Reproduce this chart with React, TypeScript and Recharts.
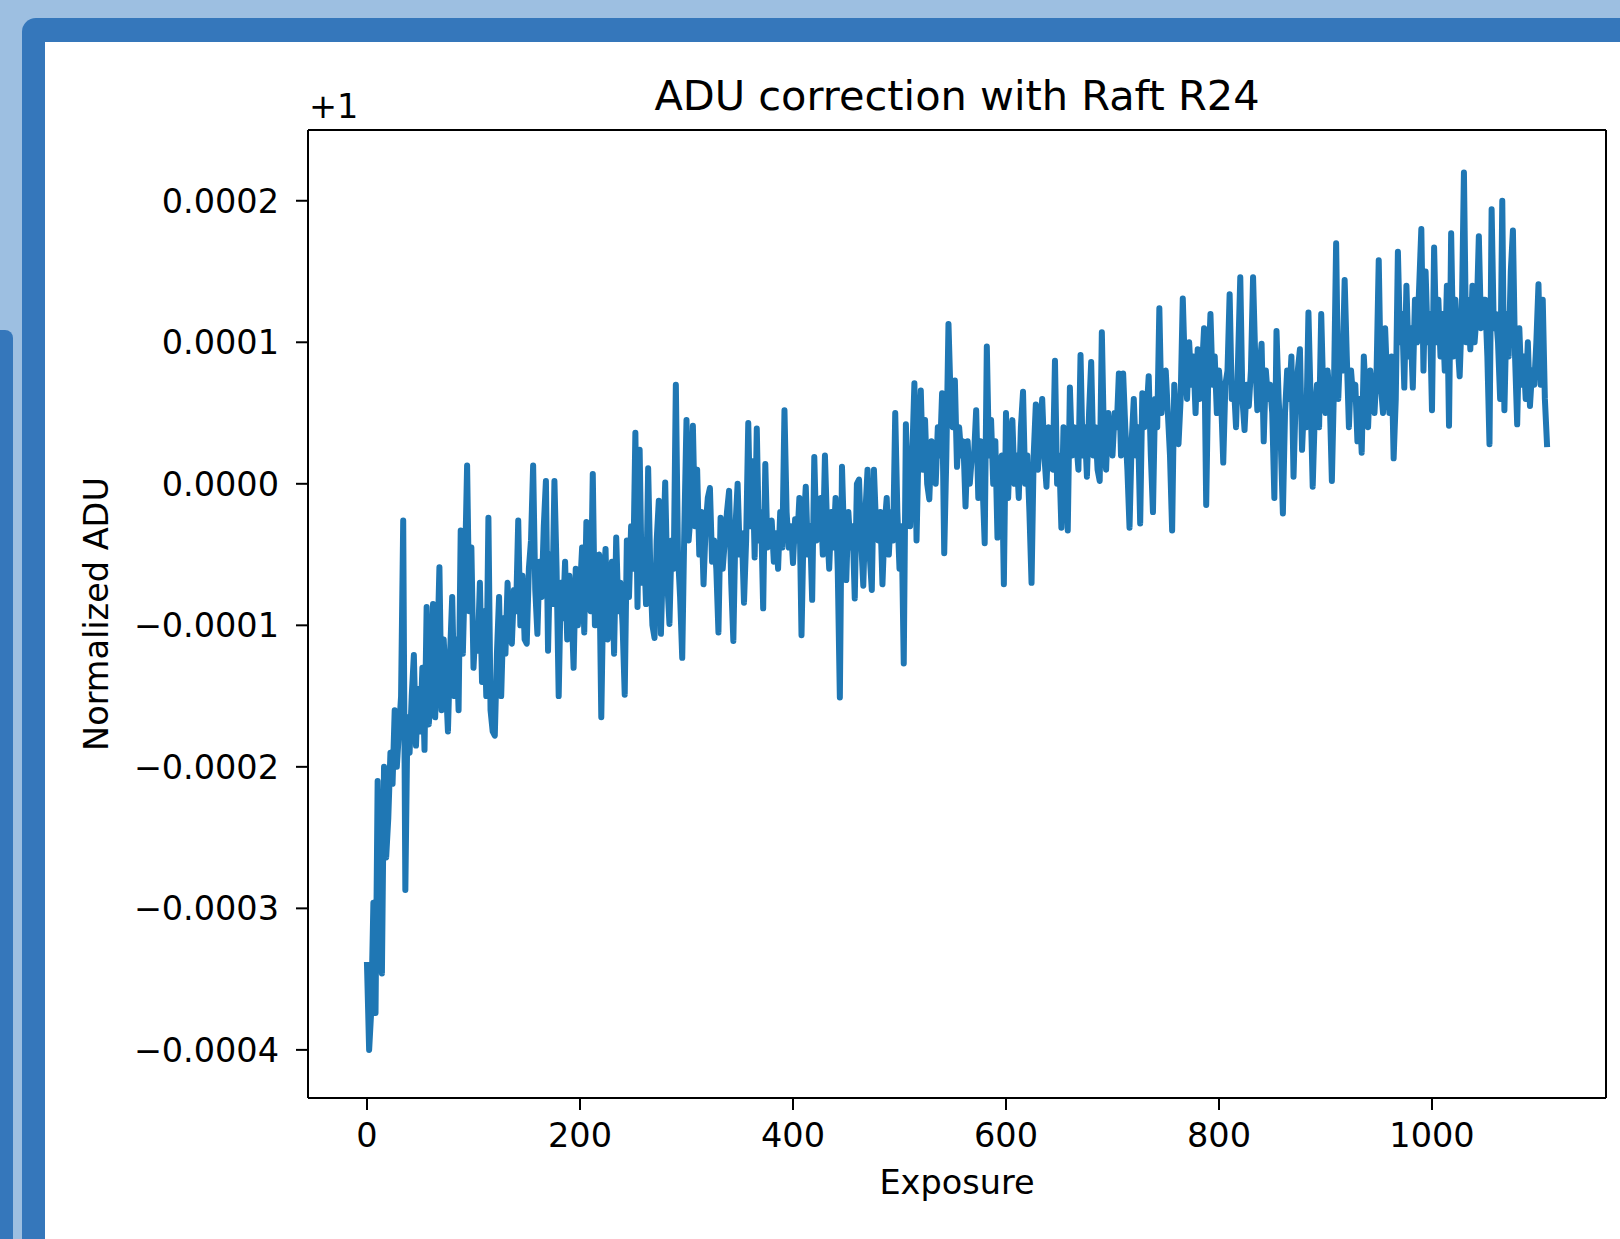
import React from 'react';
import { LineChart, Line, XAxis, YAxis, ReferenceLine } from 'recharts';

// Exposure sampling step (every 2nd exposure)
const EXPOSURE_STEP = 2;

// Normalized ADU minus 1, in millionths (1e-6).
// One row = 15 samples = 30 exposures.
const aduPpm: number[] = [
  -340, -400, -372, -296, -374, -210, -300, -346, -200, -264, -236, -190, -212, -160, -200,
  -175, -150, -26, -287, -165, -190, -150, -121, -185, -145, -175, -130, -188, -87, -170,
  -150, -85, -165, -120, -59, -160, -110, -140, -175, -120, -80, -150, -110, -160, -33,
  -120, -60, 13, -90, -45, -130, -100, -118, -70, -140, -90, -150, -24, -160, -175,
  -178, -120, -80, -150, -95, -120, -70, -105, -113, -75, -90, -26, -100, -65, -110,
  -113, -60, -40, 13, -75, -106, -55, -80, -30, 2, -118, -50, -85, 2, -60,
  -150, -70, -95, -55, -110, -65, -85, -130, -60, -100, -75, -45, -105, -27, -70,
  -90, 7, -100, -60, -50, -165, -70, -46, -110, -80, -55, -120, -38, -90, -70,
  -100, -149, -40, -80, -30, -60, 36, -87, 24, -70, -40, -85, 11, -60, -100,
  -109, -40, -12, -106, -50, 1, -70, -99, -40, -60, 70, -50, -80, -123, -30,
  45, -40, -20, 41, -30, 10, -50, -20, -71, -30, -10, -3, -55, -40, -60,
  -105, -24, -60, -40, -20, -5, -70, -111, -30, 0, -50, -35, -84, -40, 43,
  -30, 16, -52, 39, -40, -20, -88, 14, -45, -30, -26, -55, -35, -60, -20,
  -45, 52, -20, -45, -30, -56, -25, -40, -10, -107, -30, -2, -50, -30, -82,
  19, -40, -20, -10, -50, 20, -30, -60, -20, -45, -10, -60, -151, 12, -40,
  -68, -20, -45, -30, -81, 0, 3, -40, -72, -20, 10, -50, -75, 10, -30,
  -40, -20, -71, -30, -10, -50, -20, -40, 50, -20, -60, -30, -127, 42, -10,
  -30, 20, 71, -40, 30, 66, 10, 45, 0, -11, 30, 10, 0, 40, 20,
  64, -49, 20, 113, 60, 40, 73, 12, 40, 20, 30, -16, 30, 0, 20,
  20, 52, -10, 30, 0, -42, 97, 20, 45, 0, 30, -38, 10, 20, -71,
  50, -10, 30, 45, 0, 20, -10, 40, 65, 0, 20, -20, -70, 20, 56,
  10, 40, 60, 20, -2, 40, 30, 10, 87, 0, 20, -31, 40, 10, -33,
  68, 20, 40, 30, 10, 91, 20, 40, 5, 50, 86, 20, 40, 10, 2,
  107, 30, 10, 50, 30, 20, 50, 40, 78, 20, 78, 40, 10, -31, 30,
  60, 20, 40, -28, 64, 40, 50, 76, 20, -20, 60, 40, 124, 50, 70,
  80, 50, 20, -33, 70, 40, 28, 60, 131, 80, 60, 100, 70, 90, 50,
  95, 60, 80, 110, -15, 80, 120, 70, 90, 50, 80, 60, 15, 70, 80,
  134, 60, 70, 40, 90, 146, 60, 38, 70, 55, 80, 146, 90, 52, 80,
  99, 30, 80, 60, 70, 50, -10, 108, 60, 30, -21, 50, 80, 60, 90,
  5, 60, 80, 95, 24, 60, 40, 121, 60, -2, 50, 70, 40, 120, 60,
  50, 80, 60, 2, 70, 170, 60, 100, 80, 144, 90, 40, 80, 60, 70,
  30, 60, 22, 90, 60, 40, 80, 60, 50, 80, 158, 70, 50, 110, 70,
  50, 90, 18, 60, 164, 100, 120, 68, 140, 90, 110, 68, 130, 100, 140,
  180, 80, 150, 100, 120, 52, 167, 100, 130, 90, 120, 80, 140, 41, 177,
  90, 130, 100, 76, 120, 220, 100, 130, 95, 140, 100, 120, 175, 110, 130,
  130, 90, 28, 194, 110, 120, 100, 60, 200, 52, 120, 90, 150, 179, 90,
  42, 110, 70, 90, 60, 100, 55, 80, 70, 100, 141, 70, 130, 60, 28,
];

const xTicks = [0, 200, 400, 600, 800, 1000];
const yTicks = [-400, -300, -200, -100, 0, 100, 200];
const xDomain: [number, number] = [-55.4, 1163.4];
const yDomain: [number, number] = [-434, 250];

const titleText = 'ADU correction with Raft R24';
const xLabelText = 'Exposure';
const yLabelText = 'Normalized ADU';
const offsetText = '+1';

const data = aduPpm.map((v, i) => ({ exposure: i * EXPOSURE_STEP, adu: v }));

const fmtY = (v: number) => {
  if (v === 0) return '0.0000';
  const s = (Math.abs(v) / 1e6).toFixed(4);
  return v < 0 ? '\u2212' + s : s;
};

const FONT = 'DejaVu Sans';
const tickStyle = { fill: '#000', fontSize: 33.5, fontFamily: FONT };
const spine = { stroke: '#000', strokeWidth: 2 };

export default function App() {
  return (
    <div
      style={{
        position: 'fixed',
        left: 0,
        top: 0,
        width: 1620,
        height: 1239,
        background: '#9dbfe1',
        overflow: 'hidden',
      }}
    >
      <div
        style={{
          position: 'absolute',
          left: 22,
          top: 18,
          width: 1700,
          height: 1300,
          background: '#3577bb',
          borderTopLeftRadius: 14,
        }}
      />
      <div
        style={{
          position: 'absolute',
          left: -10,
          top: 330,
          width: 23,
          height: 1000,
          background: '#3577bb',
          borderTopRightRadius: 8,
        }}
      />
      <div
        style={{
          position: 'absolute',
          left: 45,
          top: 42,
          width: 1700,
          height: 1300,
          background: '#ffffff',
        }}
      />
      <div style={{ position: 'absolute', left: 0, top: 0 }}>
        <LineChart
          width={1620}
          height={1239}
          data={data}
          margin={{ top: 130, right: 14, bottom: 81, left: 108 }}
        >
          <XAxis
            dataKey="exposure"
            type="number"
            domain={xDomain}
            ticks={xTicks}
            allowDataOverflow
            height={60}
            tickSize={12}
            tickMargin={13}
            tick={tickStyle}
            tickLine={spine}
            axisLine={spine}
          />
          <YAxis
            type="number"
            domain={yDomain}
            ticks={yTicks}
            allowDataOverflow
            width={200}
            tickSize={12}
            tickMargin={17}
            tick={tickStyle}
            tickLine={spine}
            axisLine={spine}
            tickFormatter={fmtY}
          />
          <ReferenceLine y={yDomain[1]} stroke="#000" strokeWidth={2} ifOverflow="visible" />
          <ReferenceLine x={xDomain[1]} stroke="#000" strokeWidth={2} ifOverflow="visible" />
          <Line
            dataKey="adu"
            type="linear"
            stroke="#1f77b4"
            strokeWidth={6}
            strokeLinejoin="round"
            strokeLinecap="square"
            dot={false}
            activeDot={false}
            isAnimationActive={false}
          />
        </LineChart>
      </div>
      <svg
        width={1620}
        height={1239}
        style={{ position: 'absolute', left: 0, top: 0, pointerEvents: 'none' }}
      >
        <text x={957} y={110} textAnchor="middle" fontFamily={FONT} fontSize={41.5} fill="#000">
          {titleText}
        </text>
        <text x={309} y={118} textAnchor="start" fontFamily={FONT} fontSize={33.5} fill="#000">
          {offsetText}
        </text>
        <text x={957} y={1194} textAnchor="middle" fontFamily={FONT} fontSize={33.5} fill="#000">
          {xLabelText}
        </text>
        <text
          x={108}
          y={614}
          textAnchor="middle"
          fontFamily={FONT}
          fontSize={33.5}
          fill="#000"
          transform="rotate(-90 108 614)"
        >
          {yLabelText}
        </text>
      </svg>
    </div>
  );
}
